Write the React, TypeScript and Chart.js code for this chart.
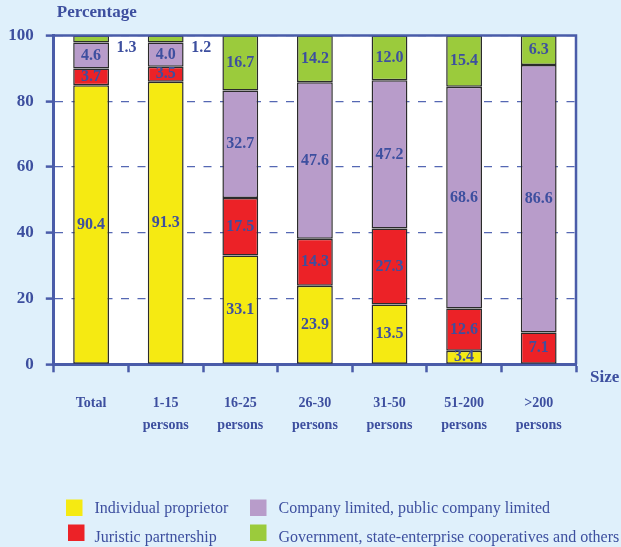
import { useEffect, useRef } from 'react';
import { Chart, registerables } from 'chart.js';

Chart.register(...registerables);

// ---- data ----
const sizeClasses = ['Total', '1-15', '16-25', '26-30', '31-50', '51-200', '>200'];
const sizeUnits = ['', 'persons', 'persons', 'persons', 'persons', 'persons', 'persons'];

const seriesNames = [
  'Individual proprietor',
  'Juristic partnership',
  'Company limited, public company limited',
  'Government, state-enterprise cooperatives and others',
];
const seriesColors = ['#f5ea12', '#ec2227', '#b89cca', '#9bcb3c'];

// segment heights as drawn in the picture
const individual = [84.9, 85.9, 33.1, 23.9, 18.2, 4.1, null];
const juristic = [5.1, 4.6, 17.5, 14.3, 23.1, 12.9, 9.7];
const company = [7.9, 7.4, 32.7, 47.6, 45.1, 67.4, 81.3];
const government = [2.1, 2.1, 16.7, 14.2, 13.6, 15.6, 9.0];

// values printed on the segments
const individualPrinted = [90.4, 91.3, 33.1, 23.9, 13.5, 3.4, null];
const juristicPrinted = [3.7, 3.5, 17.5, 14.3, 27.3, 12.6, 7.1];
const companyPrinted = [4.6, 4.0, 32.7, 47.6, 47.2, 68.6, 86.6];
const governmentPrinted = [1.3, 1.2, 16.7, 14.2, 12.0, 15.4, 6.3];

const yMin = 0;
const yMax = 100;
const yStep = 20;

const yTitle = 'Percentage';
const xTitle = 'Size';

// ---- styles ----
const BG = '#dff0fb';
const AXIS = '#4a5ca9';
const GRID = '#5567b3';
const TEXT = '#3d4f9f';
const SERIF = '"Liberation Serif", "Times New Roman", serif';

// legend layout: [squareX, squareY, textX, textBaselineY] per series
const legendLayout = [
  [66, 499.5, 94.5, 513],
  [68, 524.5, 94.5, 541.5],
  [250, 499.5, 278.5, 513],
  [250, 524.5, 278.5, 541.5],
];

const seriesValues = [individual, juristic, company, government];
const seriesPrinted = [individualPrinted, juristicPrinted, companyPrinted, governmentPrinted];

const framePlugin = {
  id: 'frame',
  beforeDraw(chart: any) {
    const { ctx, chartArea: a, width, height } = chart;
    ctx.save();
    ctx.fillStyle = BG;
    ctx.fillRect(0, 0, width, height);
    ctx.fillStyle = '#ffffff';
    ctx.fillRect(a.left, a.top, a.right - a.left, a.bottom - a.top);
    ctx.restore();
  },
  afterDraw(chart: any) {
    const { ctx, chartArea: a } = chart;
    ctx.save();
    // top & right frame
    ctx.strokeStyle = AXIS;
    ctx.lineWidth = 2.5;
    ctx.beginPath();
    ctx.moveTo(a.left, a.top);
    ctx.lineTo(a.right, a.top);
    ctx.lineTo(a.right, a.bottom);
    ctx.stroke();

    // axis titles
    ctx.fillStyle = TEXT;
    ctx.textBaseline = 'middle';
    ctx.textAlign = 'left';
    ctx.font = `bold 17px ${SERIF}`;
    ctx.fillText(yTitle, a.left + 3, 13);
    ctx.fillText(xTitle, a.right + 14, a.bottom + 13);

    // legend (two columns)
    ctx.font = `16px ${SERIF}`;
    ctx.textBaseline = 'alphabetic';
    chart.data.datasets.forEach((ds: any, i: number) => {
      const [sx, sy, tx, ty] = legendLayout[i];
      ctx.fillStyle = ds.backgroundColor;
      ctx.fillRect(sx, sy, 16.5, 16.5);
      ctx.fillStyle = TEXT;
      ctx.fillText(ds.label, tx, ty);
    });
    ctx.restore();
  },
};

const valueLabelPlugin = {
  id: 'valueLabels',
  afterDatasetsDraw(chart: any) {
    const { ctx } = chart;
    ctx.save();
    ctx.font = `bold 16px ${SERIF}`;
    ctx.fillStyle = TEXT;
    ctx.textAlign = 'center';
    ctx.textBaseline = 'middle';
    chart.data.datasets.forEach((_ds: any, di: number) => {
      const meta = chart.getDatasetMeta(di);
      const printed = seriesPrinted[di];
      meta.data.forEach((el: any, i: number) => {
        const v = printed[i];
        if (v == null) return;
        const { x, y, base } = el.getProps(['x', 'y', 'base'], true);
        const top = Math.min(y, base);
        const h = Math.abs(base - y);
        let tx = x;
        let ty = (y + base) / 2;
        if (h < 9) {
          tx = x + 35.5;
          ty = top + 12;
        }
        ctx.fillText(v.toFixed(1), tx, ty);
      });
    });
    ctx.restore();
  },
};

export default function App() {
  const ref = useRef<HTMLCanvasElement | null>(null);

  useEffect(() => {
    document.documentElement.style.margin = '0';
    document.body.style.margin = '0';
    document.body.style.background = BG;
    document.body.style.overflow = 'hidden';
    const canvas = ref.current;
    if (!canvas) return;

    const labels = sizeClasses.map((c, i) => (sizeUnits[i] ? [c, sizeUnits[i]] : c));

    const chart = new Chart(canvas, {
      type: 'bar',
      data: {
        labels,
        datasets: seriesNames.map((name, i) => ({
          label: name,
          data: seriesValues[i],
          backgroundColor: seriesColors[i],
          borderColor: '#2b2b2b',
          borderWidth: 1.5,
          borderSkipped: false,
          barPercentage: 0.48,
          categoryPercentage: 1,
        })),
      },
      options: {
        responsive: false,
        animation: false,
        devicePixelRatio: 1,
        layout: { padding: { top: 35.5, right: 45, left: 0, bottom: 0 } },
        plugins: {
          legend: { display: false },
          tooltip: { enabled: false },
          title: { display: false },
        },
        scales: {
          x: {
            stacked: true,
            grid: {
              offset: true,
              drawOnChartArea: false,
              drawTicks: true,
              tickLength: 8,
              tickWidth: 2.5,
              tickColor: AXIS,
              color: AXIS,
            },
            border: { display: true, color: AXIS, width: 3 },
            ticks: {
              color: TEXT,
              font: { family: SERIF, size: 14, weight: 'bold', lineHeight: 22 / 14 },
              padding: 20,
              maxRotation: 0,
              autoSkip: false,
            },
            afterFit(scale: any) {
              scale.height = 547 - 364.3;
            },
          },
          y: {
            stacked: true,
            min: yMin,
            max: yMax,
            grid: {
              color: GRID,
              lineWidth: 1.2,
              drawTicks: true,
              tickLength: 8,
              tickWidth: 2.5,
              tickColor: AXIS,
            },
            border: { display: true, color: AXIS, width: 3, dash: [8, 8.5] },
            ticks: {
              stepSize: yStep,
              color: TEXT,
              font: { family: SERIF, size: 17, weight: 'bold' },
              padding: 12,
            },
            afterFit(scale: any) {
              scale.width = 53.8;
            },
          },
        },
      },
      plugins: [framePlugin, valueLabelPlugin],
    } as any);

    return () => chart.destroy();
  }, []);

  return (
    <div style={{ width: 621, height: 547, background: BG }}>
      <canvas ref={ref} width={621} height={547} style={{ display: 'block', width: 621, height: 547 }} />
    </div>
  );
}
